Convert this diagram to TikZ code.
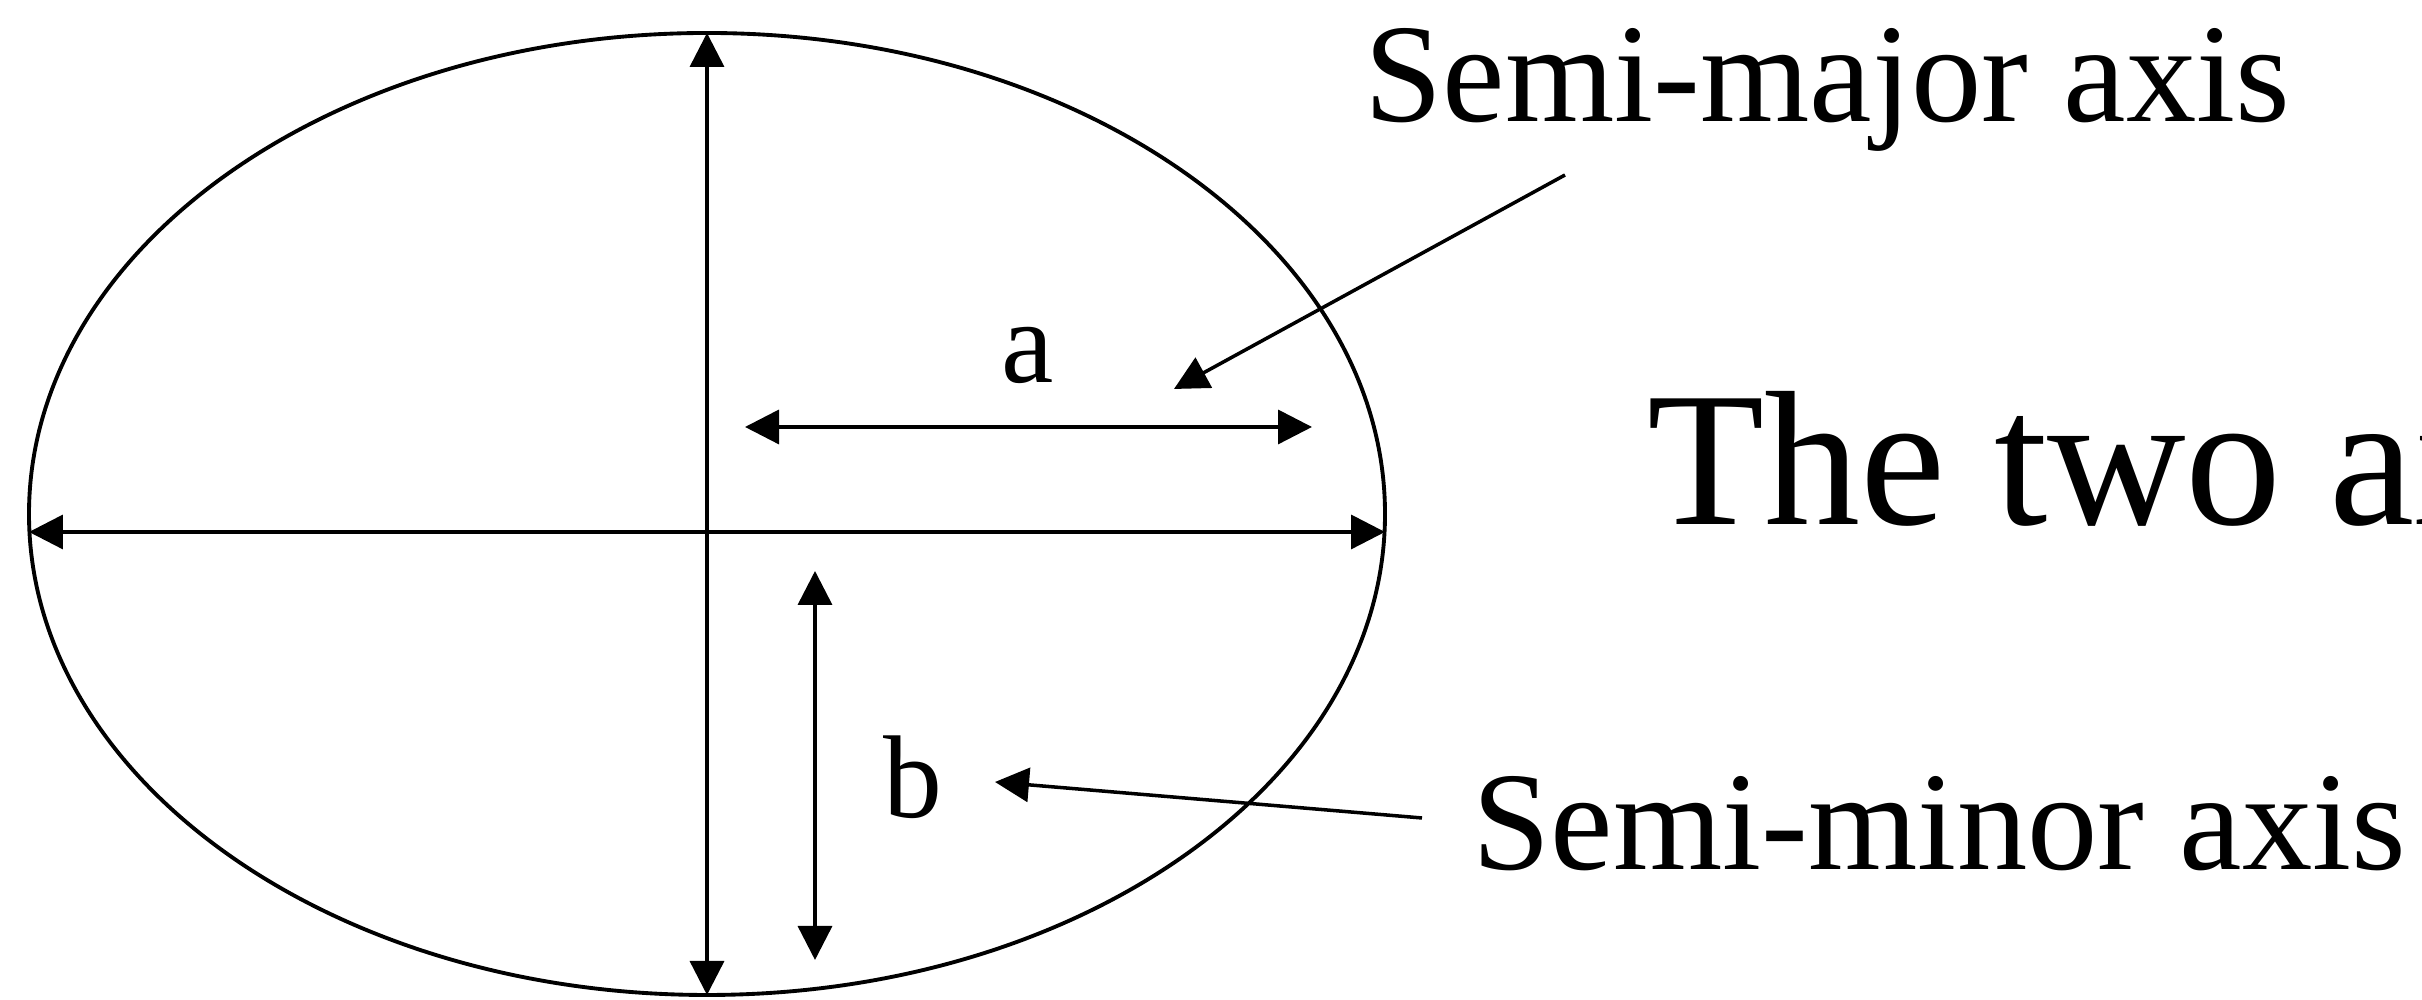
\documentclass[tikz,border=0pt]{standalone}
\usepackage{fontspec}
\setmainfont{Liberation Serif}
\usetikzlibrary{arrows.meta}
\begin{document}
\begin{tikzpicture}[
  line/.style={line width=1pt, draw=black},
  dimarrow/.style={line, {Triangle[length=0.34cm,width=0.34cm]}-{Triangle[length=0.34cm,width=0.34cm]}},
  pointer/.style={line, -{Triangle[length=0.34cm,width=0.34cm]}},
  lbl/.style={inner sep=0pt, anchor=base west, font=\fontsize{40}{48}\selectfont},
  letter/.style={inner sep=0pt, anchor=base, font=\fontsize{33.5}{40}\selectfont},
  big/.style={inner sep=0pt, anchor=base west, font=\fontsize{54.6}{64}\selectfont}
]
\useasboundingbox (0,0) rectangle (24.22,10);
\clip (0,0) rectangle (24.22,10);
% ellipse
\draw[line width=1.1pt] (7.07,4.86) ellipse [x radius=6.78, y radius=4.81];
% axes
\coordinate (L) at (0.29,4.68);
\coordinate (R) at (13.85,4.68);
\coordinate (T) at (7.07,9.67);
\coordinate (B) at (7.07,0.05);
\draw[dimarrow] (L) -- (R);
\draw[dimarrow] (T) -- (B);
% semi-major a
\coordinate (a1) at (7.45,5.73);
\coordinate (a2) at (13.12,5.73);
\draw[dimarrow] (a1) -- (a2);
\node[letter] (aa) at (10.28,6.17) {a};
% semi-minor b
\coordinate (b1) at (8.15,4.29);
\coordinate (b2) at (8.15,0.40);
\draw[dimarrow] (b1) -- (b2);
\node[letter] (bb) at (9.13,1.82) {b};
% labels
\node[lbl] (major) at (13.64,8.78) {Semi-major axis};
\node[lbl] (minor) at (14.72,1.30) {Semi-minor axis};
\node[big] (two) at (16.47,4.75) {The two axes};
% pointers
\coordinate (majS) at (15.65,8.25);
\coordinate (majT) at (11.74,6.11);
\draw[pointer] (majS) -- (majT);
\coordinate (minS) at (14.22,1.82);
\coordinate (minT) at (9.95,2.18);
\draw[pointer] (minS) -- (minT);
\end{tikzpicture}
\end{document}
